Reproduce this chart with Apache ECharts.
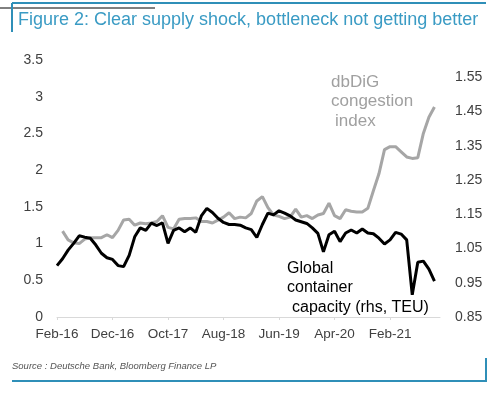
<!DOCTYPE html>
<html>
<head>
<meta charset="utf-8">
<script src="https://cdn.jsdelivr.net/npm/echarts@6/dist/echarts.min.js"></script>
<style>
  html, body { margin: 0; padding: 0; background: #fff; }
  #chart { width: 500px; height: 397px; }
</style>
</head>
<body>
<div id="chart"></div>
<script>
  // monthly categories Feb-16 .. Nov-21
  const monthNames = ['Jan', 'Feb', 'Mar', 'Apr', 'May', 'Jun', 'Jul', 'Aug', 'Sep', 'Oct', 'Nov', 'Dec']
  const months = []
  for (let k = 0; k < 70; k++) {
    const m = (1 + k) % 12
    const y = 16 + Math.floor((1 + k) / 12)
    months.push(monthNames[m] + '-' + y)
  }

  // dbDiG congestion index (lhs)
  const congestion = [
    null, 1.17, 1.05, 1.01, 1.00, 1.06, 1.08, 1.08, 1.08, 1.12,
    1.08, 1.18, 1.32, 1.33, 1.25, 1.28, 1.27, 1.28, 1.30, 1.38,
    1.22, 1.20, 1.33, 1.34, 1.34, 1.35, 1.30, 1.30, 1.28, 1.32,
    1.36, 1.42, 1.34, 1.36, 1.35, 1.41, 1.58, 1.64, 1.49, 1.39,
    1.37, 1.34, 1.36, 1.47, 1.36, 1.38, 1.34, 1.39, 1.41, 1.55,
    1.38, 1.34, 1.46, 1.44, 1.43, 1.43, 1.48, 1.72, 1.95, 2.28,
    2.32, 2.32, 2.25, 2.18, 2.16, 2.17, 2.50, 2.72, 2.86, null
  ]

  // Global container capacity (rhs, TEU)
  const capacity = [
    1.000, 1.020, 1.045, 1.065, 1.087, 1.083, 1.080, 1.060, 1.036, 1.023,
    1.018, 1.000, 0.997, 1.030, 1.084, 1.110, 1.103, 1.124, 1.117, 1.125,
    1.065, 1.103, 1.110, 1.099, 1.110, 1.097, 1.145, 1.167, 1.155, 1.138,
    1.126, 1.120, 1.120, 1.118, 1.110, 1.105, 1.082, 1.120, 1.153, 1.148,
    1.160, 1.153, 1.145, 1.133, 1.128, 1.123, 1.110, 1.094, 1.040, 1.090,
    1.100, 1.070, 1.095, 1.104, 1.095, 1.107, 1.095, 1.093, 1.080, 1.063,
    1.075, 1.097, 1.092, 1.075, 0.915, 1.010, 1.013, 0.990, 0.955, null
  ]

  const rightLabels = ['0.85', '0.95', '1.05', '1.15', '1.25', '1.35', '1.45', '1.55']

  const chart = echarts.init(document.getElementById('chart'))
  const fontFam = '"Liberation Sans", Arial, sans-serif'
  const frameBlue = '#2f8fb8'

  chart.setOption({
    backgroundColor: '#fff',
    animation: false,
    grid: { left: 57, right: 60, top: 60, bottom: 80 },
    xAxis: {
      type: 'category',
      boundaryGap: false,
      data: months,
      axisLine: { lineStyle: { color: '#d9d9d9', width: 1 } },
      axisTick: { show: true, interval: 9, length: 3, lineStyle: { color: '#d9d9d9' } },
      axisLabel: {
        interval: 9, margin: 10, color: '#404040', fontSize: 13.5, fontFamily: fontFam
      },
      splitLine: { show: false }
    },
    yAxis: [{
      type: 'value',
      min: 0, max: 3.5, interval: 0.5,
      axisLine: { show: false },
      axisTick: { show: false },
      splitLine: { show: false },
      axisLabel: { margin: 14, color: '#404040', fontSize: 14, fontFamily: fontFam }
    }, {
      type: 'value',
      position: 'right',
      min: 0.85, max: 1.6, interval: 0.05,
      axisLine: { show: false },
      axisTick: { show: false },
      splitLine: { show: false },
      axisLabel: {
        margin: 15, color: '#404040', fontSize: 14, fontFamily: fontFam,
        formatter: function (v) {
          const s = v.toFixed(2)
          return rightLabels.indexOf(s) >= 0 ? s : ''
        }
      }
    }],
    series: [{
      name: 'dbDiG congestion index',
      type: 'line',
      yAxisIndex: 0,
      data: congestion,
      showSymbol: false,
      lineStyle: { color: '#a6a6a6', width: 3 },
      z: 2
    }, {
      name: 'Global container capacity (rhs, TEU)',
      type: 'line',
      yAxisIndex: 1,
      data: capacity,
      showSymbol: false,
      lineStyle: { color: '#000', width: 3 },
      z: 3
    }],
    graphic: [
      // frame lines
      { type: 'line', shape: { x1: 0, y1: 8, x2: 155, y2: 8 }, style: { stroke: '#000', lineWidth: 1 } },
      { type: 'line', shape: { x1: 12, y1: 3, x2: 486, y2: 3 }, style: { stroke: frameBlue, lineWidth: 2 } },
      { type: 'line', shape: { x1: 12, y1: 3, x2: 12, y2: 32 }, style: { stroke: frameBlue, lineWidth: 2 } },
      { type: 'line', shape: { x1: 12, y1: 381, x2: 486, y2: 381 }, style: { stroke: frameBlue, lineWidth: 2 } },
      { type: 'line', shape: { x1: 486, y1: 358, x2: 486, y2: 382 }, style: { stroke: frameBlue, lineWidth: 2 } },
      // title
      { type: 'text', left: 18, top: 11, style: {
        text: 'Figure 2: Clear supply shock, bottleneck not getting better',
        fill: '#3a9bc4', font: '18px ' + fontFam } },
      // series annotations
      { type: 'text', x: 331, y: 82, style: { text: 'dbDiG', fill: '#a0a0a0', font: '17px ' + fontFam, verticalAlign: 'middle' } },
      { type: 'text', x: 331, y: 101, style: { text: 'congestion', fill: '#a0a0a0', font: '17px ' + fontFam, verticalAlign: 'middle' } },
      { type: 'text', x: 335, y: 121, style: { text: 'index', fill: '#a0a0a0', font: '17px ' + fontFam, verticalAlign: 'middle' } },
      { type: 'text', x: 287, y: 269, style: { text: 'Global', fill: '#000', font: '16px ' + fontFam, verticalAlign: 'middle' } },
      { type: 'text', x: 287, y: 288, style: { text: 'container', fill: '#000', font: '16px ' + fontFam, verticalAlign: 'middle' } },
      { type: 'text', x: 292, y: 308, style: { text: 'capacity (rhs, TEU)', fill: '#000', font: '16px ' + fontFam, verticalAlign: 'middle' } },
      // source
      { type: 'text', x: 12, y: 366, style: {
        text: 'Source : Deutsche Bank, Bloomberg Finance LP',
        fill: '#555', font: 'italic 9.5px ' + fontFam, verticalAlign: 'middle' } }
    ]
  })
</script>
</body>
</html>
